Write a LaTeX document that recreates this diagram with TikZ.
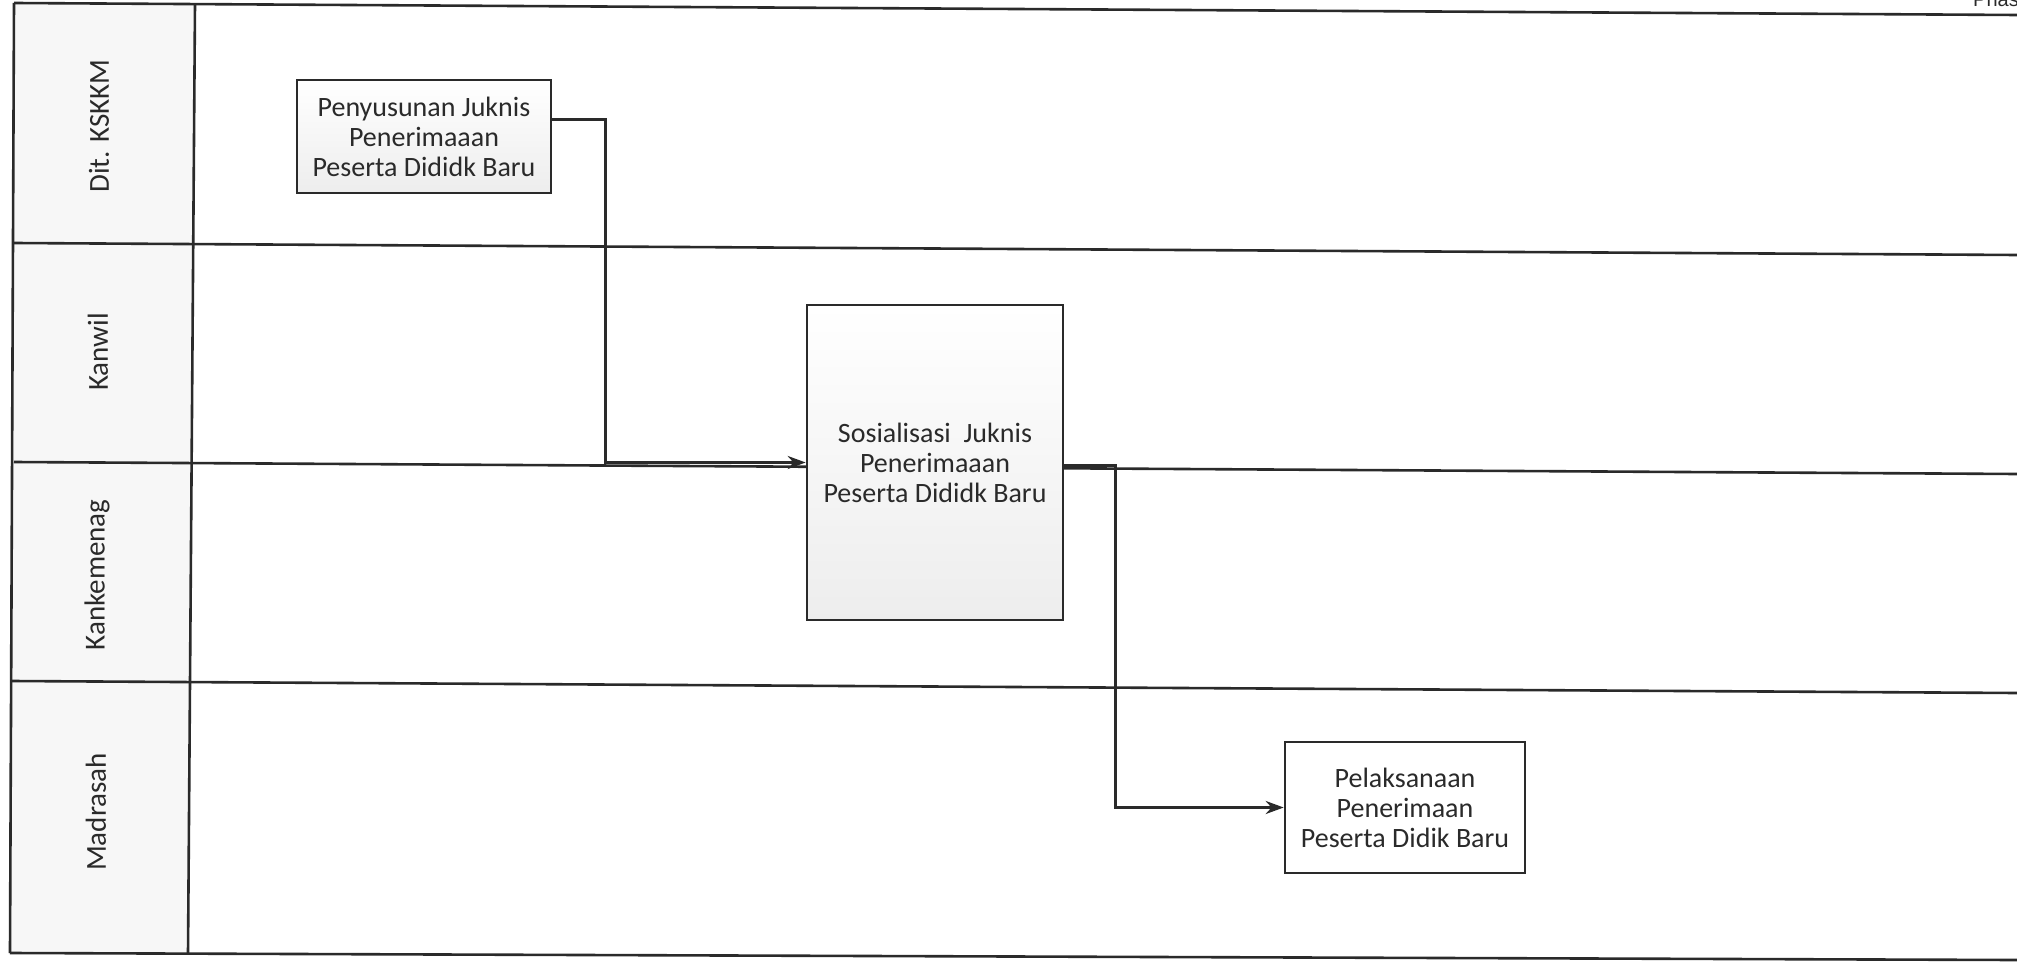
\documentclass[tikz,border=0pt]{standalone}
\usepackage{fontspec}
\setmainfont{Carlito}
\newfontfamily\phasfont{Liberation Sans}
\usetikzlibrary{arrows.meta,calc}
\definecolor{ink}{HTML}{2A2A2A}
\tikzset{
  lane/.style={draw=ink, line width=2.6pt},
  lanelabel/.style={rotate=90, font=\fontsize{29}{32}\selectfont, text=ink},
  procbox/.style={draw=ink, line width=2.6pt, top color=white, bottom color=gray!14, align=center,
    font=\fontsize{28}{30}\selectfont, text=ink, inner sep=0pt},
  flow/.style={draw=ink, line width=3pt, -{Stealth[length=18pt,width=13pt]}}
}
\begin{document}
\begin{tikzpicture}[x=1pt,y=-1pt]
\useasboundingbox (0,0) rectangle (2017,965);
\clip (0,0) rectangle (2017,965);
% label column background
\fill[gray!6] (14,3) -- (195,4) -- (188,954) -- (10,953) -- cycle;
% swimlane frame
\draw[lane] (14,3) -- (2017,15);
\draw[lane] (14,243) -- (2017,255);
\draw[lane] (14,462) -- (2017,474);
\draw[lane] (12,681) -- (2017,693);
\draw[lane] (10,953) -- (2017,960);
\draw[lane] (14,3) -- (10,953);
\draw[lane] (195,4) -- (188,954);
% lane labels
\node[lanelabel] (l1) at (99,126) {Dit. KSKKM};
\node[lanelabel] (l2) at (98,352) {Kanwil};
\node[lanelabel] (l3) at (97,575) {Kankemenag};
\node[lanelabel] (l4) at (96,812) {Madrasah};
% phase header (cut off)
\node[anchor=base east, font=\phasfont\fontsize{20}{22}\selectfont, text=ink, inner sep=0pt] (ph) at (2019,7) {Phas};
% process boxes
\node[procbox, minimum width=254pt, minimum height=113pt] (b1) at (424,136.5)
  {Penyusunan Juknis\\Penerimaaan\\Peserta Dididk Baru};
\node[procbox, minimum width=256pt, minimum height=315pt] (b2) at (935,462.5)
  {Sosialisasi\ \ Juknis\\Penerimaaan\\Peserta Dididk Baru};
\node[procbox, minimum width=240pt, minimum height=131pt, top color=white, bottom color=white] (b3) at (1405,807.5)
  {Pelaksanaan\\Penerimaan\\Peserta Didik Baru};
% connectors
\coordinate (c1) at (605,120);
\coordinate (c2) at (1115,465);
\draw[flow] (b1.east |- c1) -- (c1) |- (b2.west);
\draw[flow] (b2.east |- c2) -- (c2) |- (b3.west);
\end{tikzpicture}
\end{document}
